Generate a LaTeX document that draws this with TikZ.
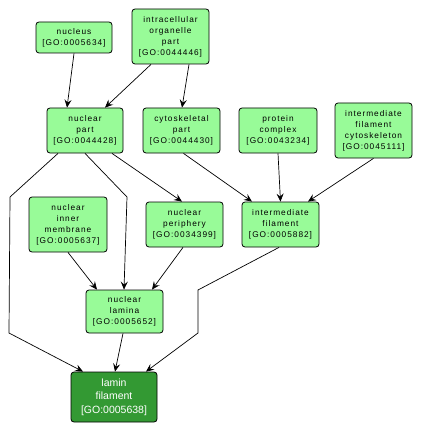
\documentclass[tikz,border=0pt]{standalone}
\usepackage{fontspec}
\setmainfont[LetterSpace=12]{Liberation Sans}
\newfontfamily\plainsans{Liberation Sans}
\usetikzlibrary{arrows.meta}
\begin{document}
\begin{tikzpicture}[x=1pt,y=-1pt,
  go/.style={draw=black, line width=0.8pt, rounded corners=3pt, fill=lgreen,
    inner sep=0pt, align=center, font=\fontsize{8.3}{11}\selectfont},
  term/.style={go, fill=dgreen, text=white, font=\plainsans\fontsize{10.5}{13.5}\selectfont},
  arr/.style={draw=black, line width=0.7pt, -{Stealth[length=8pt,width=7pt,inset=3pt]}}]
\definecolor{lgreen}{HTML}{98FB98}
\definecolor{dgreen}{HTML}{339933}
\useasboundingbox (0,0) rectangle (423,433);
\fill[white] (0,0) rectangle (423,433);
\node[go, minimum width=76pt, minimum height=31pt] (nuc) at (74,37.5) {nucleus\\{}[GO:0005634]};
\node[go, minimum width=77pt, minimum height=55pt] (iop) at (170.5,36.5) {intracellular\\organelle\\part\\{}[GO:0044446]};
\node[go, minimum width=76pt, minimum height=45pt] (np) at (85,130.5) {nuclear\\part\\{}[GO:0044428]};
\node[go, minimum width=77pt, minimum height=45pt] (csp) at (181.5,130.5) {cytoskeletal\\part\\{}[GO:0044430]};
\node[go, minimum width=78pt, minimum height=45pt] (pc) at (278,130.5) {protein\\complex\\{}[GO:0043234]};
\node[go, minimum width=77pt, minimum height=55pt] (ifc) at (373.5,130.5) {intermediate\\filament\\cytoskeleton\\{}[GO:0045111]};
\node[go, minimum width=78pt, minimum height=55pt] (nim) at (68,224.5) {nuclear\\inner\\membrane\\{}[GO:0005637]};
\node[go, minimum width=77pt, minimum height=45pt] (nper) at (184.5,224.5) {nuclear\\periphery\\{}[GO:0034399]};
\node[go, minimum width=77pt, minimum height=45pt] (if) at (280.5,224.5) {intermediate\\filament\\{}[GO:0005882]};
\node[go, minimum width=77pt, minimum height=43pt] (nl) at (124.5,311.5) {nuclear\\lamina\\{}[GO:0005652]};
\node[term, minimum width=86pt, minimum height=50pt] (lf) at (114,397) {lamin\\filament\\{}[GO:0005638]};
\coordinate (b1) at (10,197);
\coordinate (b2) at (9,333);
\coordinate (b3) at (127,197);
\coordinate (b4) at (198,290);
\coordinate (b5) at (198,333);
\draw[arr] (nuc.south) -- ([xshift=-18pt]np.north);
\draw[arr] ([xshift=-19.5pt]iop.south) -- ([xshift=20pt]np.north);
\draw[arr] ([xshift=18.5pt]iop.south) -- ([xshift=0.5pt]csp.north);
\draw[arr] ([xshift=-27pt]np.south) -- (b1) -- (b2) -- ([xshift=-31pt]lf.north);
\draw[arr] (np.south) -- (b3) -- ([xshift=-0.5pt]nl.north);
\draw[arr] ([xshift=27pt]np.south) -- ([xshift=-2.5pt]nper.north);
\draw[arr] ([xshift=2pt]csp.south) -- ([xshift=-28.5pt]if.north);
\draw[arr] (pc.south) -- (if.north);
\draw[arr] (ifc.south) -- ([xshift=27.5pt]if.north);
\draw[arr] (nim.south) -- ([xshift=-27.5pt]nl.north);
\draw[arr] ([xshift=-1.5pt]nper.south) -- ([xshift=27.5pt]nl.north);
\draw[arr] ([xshift=-1.5pt]if.south) -- (b4) -- (b5) -- ([xshift=32pt]lf.north);
\draw[arr] ([xshift=-1.5pt]nl.south) -- ([xshift=1pt]lf.north);
\end{tikzpicture}
\end{document}
